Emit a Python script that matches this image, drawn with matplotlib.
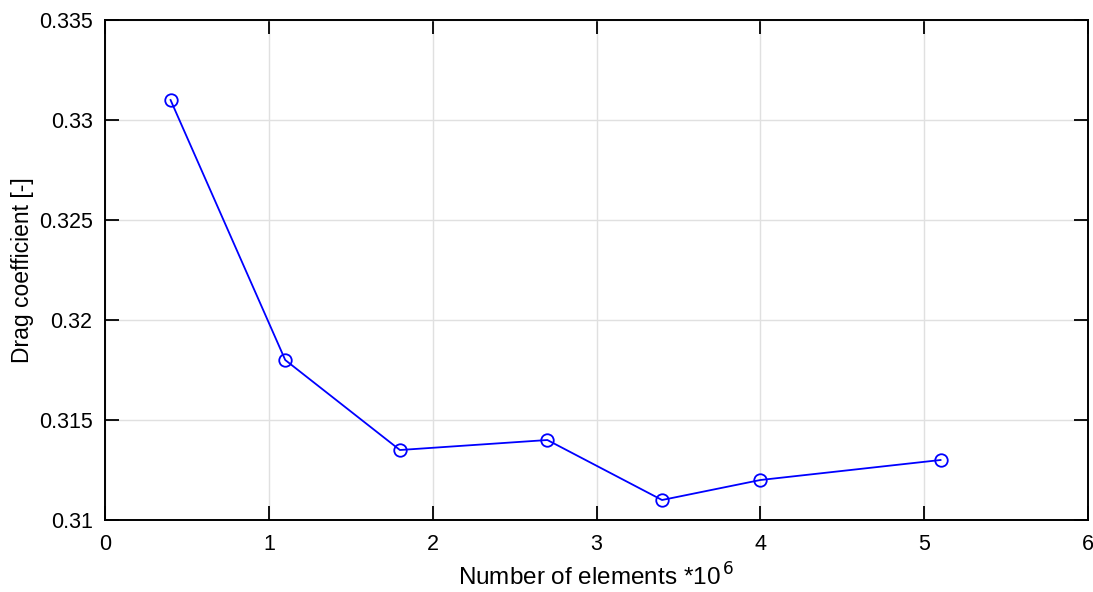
import matplotlib
matplotlib.use("Agg")
import matplotlib.pyplot as plt

plt.rcParams['font.family'] = ['Liberation Sans', 'DejaVu Sans']

# mesh size (millions of elements) vs drag coefficient
elements = [0.4, 1.1, 1.8, 2.7, 3.4, 4.0, 5.1]
drag = [0.331, 0.318, 0.3135, 0.314, 0.311, 0.312, 0.313]

xticks = [0, 1, 2, 3, 4, 5, 6]
yticks = [0.31, 0.315, 0.32, 0.325, 0.33, 0.335]

fig = plt.figure(figsize=(10.93, 5.92), dpi=100)
ax = fig.add_axes([0.0961, 0.1216, 0.8993, 0.8446])

ax.plot(elements, drag, color='#0000ff', linewidth=1.3, marker='o',
        markersize=9, markerfacecolor='none', markeredgecolor='#0000ff',
        markeredgewidth=1.3)

ax.set_xlim(0, 6)
ax.set_ylim(0.31, 0.335)
ax.set_xticks(xticks)
ax.set_yticks(yticks)
ax.set_xticklabels([str(t) for t in xticks])
ax.set_yticklabels(['0.31', '0.315', '0.32', '0.325', '0.33', '0.335'])

ax.grid(True, color='#e0e0e0', linewidth=1.0)
ax.set_axisbelow(True)
ax.tick_params(direction='in', length=10, width=1.3, top=True, right=True,
               labelsize=15.5, colors='black')
ax.tick_params(axis='x', pad=10)
ax.tick_params(axis='y', pad=9)
for s in ax.spines.values():
    s.set_linewidth(1.4)

ax.set_xlabel('Number of elements *10$^{\\,6}$', fontsize=17.5, labelpad=6)
ax.set_ylabel('Drag coefficient [-]', fontsize=16.5, labelpad=3)

fig.savefig('out.png', dpi=100)
